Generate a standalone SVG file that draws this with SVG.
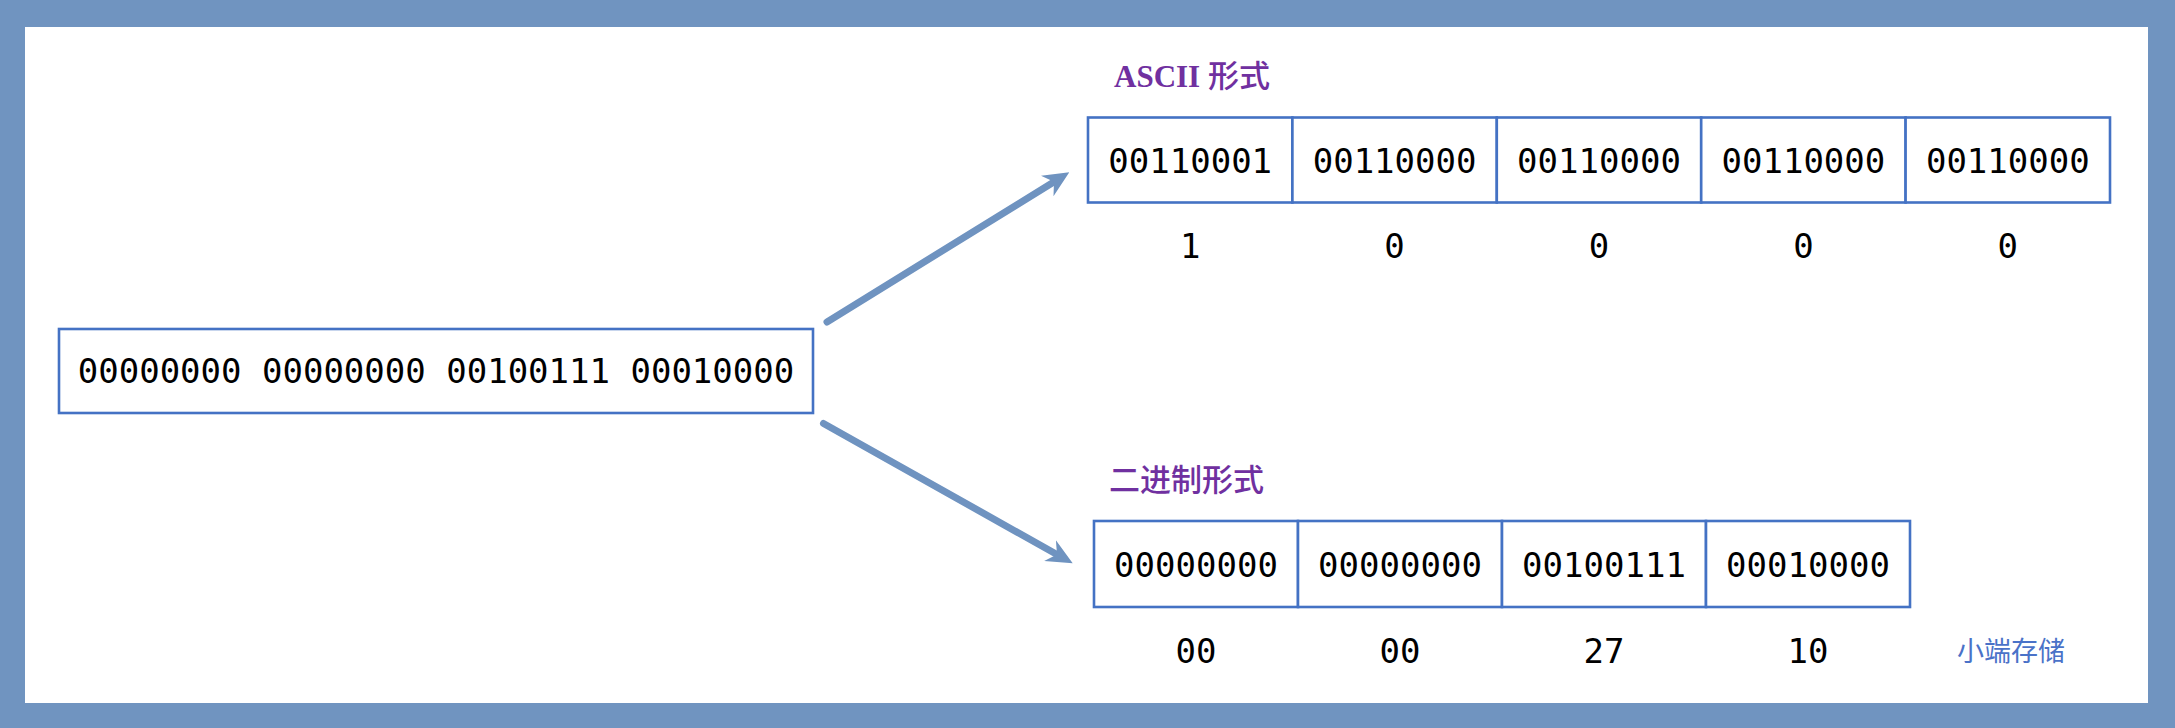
<svg xmlns="http://www.w3.org/2000/svg" width="2175" height="728" viewBox="0 0 2175 728">
<style>
.box{fill:#ffffff;stroke:#4472C4;stroke-width:2.6}
.mono{font-family:"DejaVu Sans Mono","Liberation Mono",monospace;font-size:34px;fill:#000000;text-anchor:middle}
.title{font-family:"Liberation Serif","Noto Sans CJK SC",serif;font-size:31px;fill:#7030A0;font-weight:500}
.latin{font-weight:bold}
.note{font-family:"Noto Sans CJK SC",sans-serif;font-size:27px;fill:#4A72C8}
.conn{stroke:#6F93C0;stroke-width:7;stroke-linecap:round;fill:none}
</style>
<defs>
<marker id="arrow" viewBox="0 0 26 24" refX="12" refY="12" markerWidth="26" markerHeight="24" markerUnits="userSpaceOnUse" orient="auto">
<path d="M26,12 L0,0 L8,12 L0,24 Z" fill="#6F93C0"/>
</marker>
</defs>
<rect x="0" y="0" width="2175" height="728" fill="#7094C0"/>
<rect x="25" y="27" width="2123" height="676" fill="#ffffff"/>

<g id="source">
<rect class="box" x="59" y="329" width="754" height="84"/>
<text class="mono" x="436" y="383">00000000 00000000 00100111 00010000</text>
</g>

<g id="connectors">
<line class="conn" x1="827" y1="322" x2="1057.4" y2="179.7" marker-end="url(#arrow)"/>
<line class="conn" x1="823.5" y1="423.5" x2="1060.5" y2="556.5" marker-end="url(#arrow)"/>
</g>

<g id="ascii-title"><text class="title" x="1114" y="87"><tspan class="latin">ASCII</tspan> 形式</text></g>

<g id="ascii-1"><rect class="box" x="1088" y="117.5" width="204.4" height="85"/><text class="mono" x="1190.2" y="173">00110001</text><text class="mono" x="1190.2" y="258">1</text></g>
<g id="ascii-2"><rect class="box" x="1292.4" y="117.5" width="204.4" height="85"/><text class="mono" x="1394.6" y="173">00110000</text><text class="mono" x="1394.6" y="258">0</text></g>
<g id="ascii-3"><rect class="box" x="1496.8" y="117.5" width="204.4" height="85"/><text class="mono" x="1599" y="173">00110000</text><text class="mono" x="1599" y="258">0</text></g>
<g id="ascii-4"><rect class="box" x="1701.2" y="117.5" width="204.4" height="85"/><text class="mono" x="1803.4" y="173">00110000</text><text class="mono" x="1803.4" y="258">0</text></g>
<g id="ascii-5"><rect class="box" x="1905.6" y="117.5" width="204.4" height="85"/><text class="mono" x="2007.8" y="173">00110000</text><text class="mono" x="2007.8" y="258">0</text></g>

<g id="binary-title"><text class="title" x="1109" y="491">二进制形式</text></g>

<g id="bin-1"><rect class="box" x="1094" y="521" width="204" height="86"/><text class="mono" x="1196" y="577">00000000</text><text class="mono" x="1196" y="663">00</text></g>
<g id="bin-2"><rect class="box" x="1298" y="521" width="204" height="86"/><text class="mono" x="1400" y="577">00000000</text><text class="mono" x="1400" y="663">00</text></g>
<g id="bin-3"><rect class="box" x="1502" y="521" width="204" height="86"/><text class="mono" x="1604" y="577">00100111</text><text class="mono" x="1604" y="663">27</text></g>
<g id="bin-4"><rect class="box" x="1706" y="521" width="204" height="86"/><text class="mono" x="1808" y="577">00010000</text><text class="mono" x="1808" y="663">10</text></g>

<g id="endian-note"><text class="note" x="1957" y="661">小端存储</text></g>
</svg>
